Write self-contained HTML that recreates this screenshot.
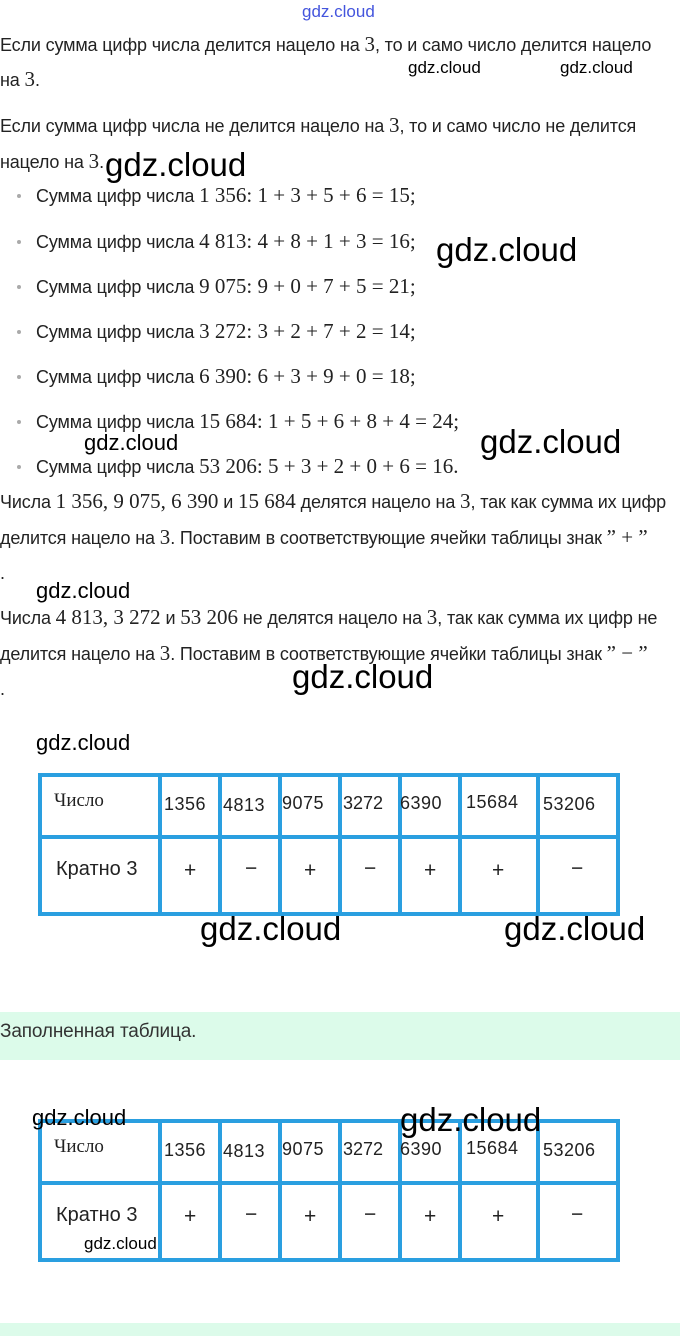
<!DOCTYPE html>
<html><head><meta charset="utf-8"><style>
body{margin:0;width:680px;height:1336px;position:relative;background:#fff;overflow:hidden;font-family:"Liberation Sans",sans-serif;color:#222;}
.t{position:absolute;left:0;white-space:nowrap;font-size:18px;line-height:20px;letter-spacing:-0.15px;}
.m{font-family:"Liberation Serif",serif;font-size:21px;letter-spacing:0;}
.b{position:absolute;left:17px;width:4px;height:4px;background:#aaa;border-radius:50%;}
.w{position:absolute;white-space:nowrap;font-family:"Liberation Sans",sans-serif;color:#000;}
.tb{position:absolute;left:38px;width:582px;height:142px;}
.tb div{position:absolute;background:#2a9fe0;}
.tb span{position:absolute;font-size:18px;color:#222;white-space:nowrap;}
</style></head><body>
<div class="w" style="left:302px;top:2px;font-size:17px;color:#4455dd;">gdz.cloud</div>

<div class="t" style="top:34px;">Если сумма цифр числа делится нацело на <span class="m">3</span>, то и само число делится нацело</div>
<div class="t" style="top:69px;">на <span class="m">3</span>.</div>
<div class="w" style="left:408px;top:58px;font-size:17px;">gdz.cloud</div>
<div class="w" style="left:560px;top:58px;font-size:17px;">gdz.cloud</div>
<div class="t" style="top:115px;">Если сумма цифр числа не делится нацело на <span class="m">3</span>, то и само число не делится</div>
<div class="t" style="top:151px;">нацело на <span class="m">3</span>.</div>
<div class="w" style="left:105px;top:146px;font-size:33px;">gdz.cloud</div>

<div class="b" style="top:194px"></div><div class="t" style="left:36px;top:185px;">Сумма цифр числа <span class="m">1 356: 1 + 3 + 5 + 6 = 15;</span></div>
<div class="b" style="top:240px"></div><div class="t" style="left:36px;top:231px;">Сумма цифр числа <span class="m">4 813: 4 + 8 + 1 + 3 = 16;</span></div>
<div class="w" style="left:436px;top:231px;font-size:33px;">gdz.cloud</div>
<div class="b" style="top:285px"></div><div class="t" style="left:36px;top:276px;">Сумма цифр числа <span class="m">9 075: 9 + 0 + 7 + 5 = 21;</span></div>
<div class="b" style="top:330px"></div><div class="t" style="left:36px;top:321px;">Сумма цифр числа <span class="m">3 272: 3 + 2 + 7 + 2 = 14;</span></div>
<div class="b" style="top:375px"></div><div class="t" style="left:36px;top:366px;">Сумма цифр числа <span class="m">6 390: 6 + 3 + 9 + 0 = 18;</span></div>
<div class="b" style="top:420px"></div><div class="t" style="left:36px;top:411px;">Сумма цифр числа <span class="m">15 684: 1 + 5 + 6 + 8 + 4 = 24;</span></div>
<div class="w" style="left:84px;top:430px;font-size:22px;">gdz.cloud</div>
<div class="w" style="left:480px;top:423px;font-size:33px;">gdz.cloud</div>
<div class="b" style="top:465px"></div><div class="t" style="left:36px;top:456px;">Сумма цифр числа <span class="m">53 206: 5 + 3 + 2 + 0 + 6 = 16.</span></div>

<div class="t" style="top:491px;">Числа <span class="m">1 356, 9 075, 6 390</span> и <span class="m">15 684</span> делятся нацело на <span class="m">3</span>, так как сумма их цифр</div>
<div class="t" style="top:527px;">делится нацело на <span class="m">3</span>. Поставим в соответствующие ячейки таблицы знак <span class="m">” + ”</span></div>
<div class="t" style="top:563px;">.</div>
<div class="w" style="left:36px;top:578px;font-size:22px;">gdz.cloud</div>
<div class="t" style="top:607px;">Числа <span class="m">4 813, 3 272</span> и <span class="m">53 206</span> не делятся нацело на <span class="m">3</span>, так как сумма их цифр не</div>
<div class="t" style="top:643px;">делится нацело на <span class="m">3</span>. Поставим в соответствующие ячейки таблицы знак <span class="m">” − ”</span></div>
<div class="t" style="top:679px;">.</div>
<div class="w" style="left:292px;top:658px;font-size:33px;">gdz.cloud</div>
<div class="w" style="left:36px;top:730px;font-size:22px;">gdz.cloud</div>

<div class="tb" style="top:773px;">
<div style="left:0;top:0;width:582px;height:4px"></div>
<div style="left:0;top:139px;width:582px;height:4px"></div>
<div style="left:0;top:62px;width:582px;height:4px"></div>
<div style="left:0;top:0;width:4px;height:143px"></div>
<div style="left:120px;top:0;width:4px;height:143px"></div>
<div style="left:180px;top:0;width:4px;height:143px"></div>
<div style="left:240px;top:0;width:4px;height:143px"></div>
<div style="left:300px;top:0;width:4px;height:143px"></div>
<div style="left:360px;top:0;width:4px;height:143px"></div>
<div style="left:420px;top:0;width:4px;height:143px"></div>
<div style="left:498px;top:0;width:4px;height:143px"></div>
<div style="left:578px;top:0;width:4px;height:143px"></div>
<span style="left:16px;top:17px;font-family:'Liberation Serif',serif;font-size:19px;">Число</span>
<span style="left:126px;top:21px;letter-spacing:0.5px">1356</span>
<span style="left:185px;top:22px;letter-spacing:0.5px">4813</span>
<span style="left:244px;top:20px;letter-spacing:0.5px">9075</span>
<span style="left:305px;top:20px">3272</span>
<span style="left:362px;top:20px;letter-spacing:0.5px">6390</span>
<span style="left:428px;top:19px;letter-spacing:0.5px">15684</span>
<span style="left:505px;top:21px;letter-spacing:0.5px">53206</span>
<span style="left:18px;top:85px;font-size:20px">Кратно 3</span>
<span style="left:146px;top:86px;font-size:21px">+</span>
<span style="left:207px;top:84px;font-size:21px">−</span>
<span style="left:266px;top:86px;font-size:21px">+</span>
<span style="left:326px;top:84px;font-size:21px">−</span>
<span style="left:386px;top:86px;font-size:21px">+</span>
<span style="left:454px;top:86px;font-size:21px">+</span>
<span style="left:533px;top:84px;font-size:21px">−</span>
</div>
<div class="w" style="left:200px;top:910px;font-size:33px;">gdz.cloud</div>
<div class="w" style="left:504px;top:910px;font-size:33px;">gdz.cloud</div>

<div style="position:absolute;left:0;top:1012px;width:680px;height:48px;background:#dcfbea;"></div>
<div class="t" style="top:1022px;color:#333;font-size:19px;">Заполненная таблица.</div>

<div class="tb" style="top:1119px;">
<div style="left:0;top:0;width:582px;height:4px"></div>
<div style="left:0;top:139px;width:582px;height:4px"></div>
<div style="left:0;top:62px;width:582px;height:4px"></div>
<div style="left:0;top:0;width:4px;height:143px"></div>
<div style="left:120px;top:0;width:4px;height:143px"></div>
<div style="left:180px;top:0;width:4px;height:143px"></div>
<div style="left:240px;top:0;width:4px;height:143px"></div>
<div style="left:300px;top:0;width:4px;height:143px"></div>
<div style="left:360px;top:0;width:4px;height:143px"></div>
<div style="left:420px;top:0;width:4px;height:143px"></div>
<div style="left:498px;top:0;width:4px;height:143px"></div>
<div style="left:578px;top:0;width:4px;height:143px"></div>
<span style="left:16px;top:17px;font-family:'Liberation Serif',serif;font-size:19px;">Число</span>
<span style="left:126px;top:21px;letter-spacing:0.5px">1356</span>
<span style="left:185px;top:22px;letter-spacing:0.5px">4813</span>
<span style="left:244px;top:20px;letter-spacing:0.5px">9075</span>
<span style="left:305px;top:20px">3272</span>
<span style="left:362px;top:20px;letter-spacing:0.5px">6390</span>
<span style="left:428px;top:19px;letter-spacing:0.5px">15684</span>
<span style="left:505px;top:21px;letter-spacing:0.5px">53206</span>
<span style="left:18px;top:85px;font-size:20px">Кратно 3</span>
<span style="left:146px;top:86px;font-size:21px">+</span>
<span style="left:207px;top:84px;font-size:21px">−</span>
<span style="left:266px;top:86px;font-size:21px">+</span>
<span style="left:326px;top:84px;font-size:21px">−</span>
<span style="left:386px;top:86px;font-size:21px">+</span>
<span style="left:454px;top:86px;font-size:21px">+</span>
<span style="left:533px;top:84px;font-size:21px">−</span>
</div>
<div class="w" style="left:32px;top:1105px;font-size:22px;">gdz.cloud</div>
<div class="w" style="left:400px;top:1101px;font-size:33px;">gdz.cloud</div>
<div class="w" style="left:84px;top:1234px;font-size:17px;">gdz.cloud</div>

<div style="position:absolute;left:0;top:1323px;width:680px;height:13px;background:#dcfbea;"></div>
</body></html>
